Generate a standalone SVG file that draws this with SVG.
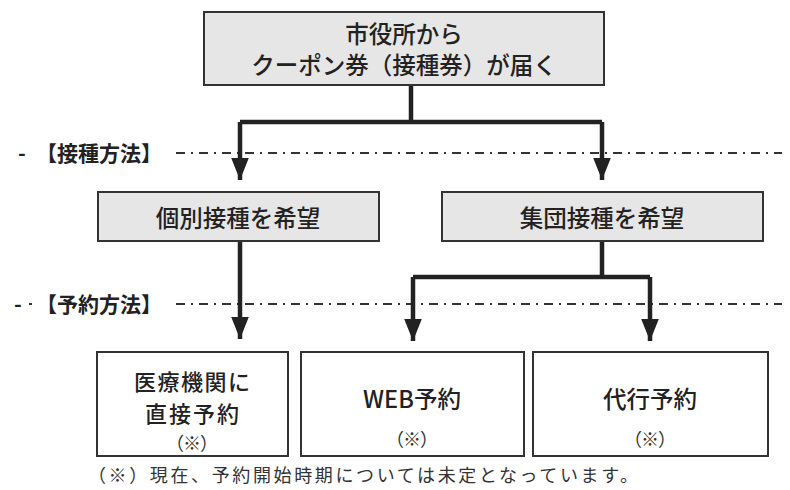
<svg xmlns="http://www.w3.org/2000/svg" width="790" height="490" viewBox="0 0 790 490">
<style>
.box{fill:#e6e6e6;stroke:#333;stroke-width:2}
.wbox{fill:#fff;stroke:#333;stroke-width:2}
.t{font-family:"Noto Sans CJK JP","Noto Sans",sans-serif;font-size:23.5px;fill:#222;text-anchor:middle;dominant-baseline:central;font-weight:500}
.t2{font-size:22px}
.s{font-family:"Noto Sans CJK JP","Noto Sans",sans-serif;font-size:18px;fill:#333;text-anchor:middle;dominant-baseline:central}
.lab{font-family:"Noto Sans CJK JP","Noto Sans",sans-serif;font-size:21px;fill:#222;dominant-baseline:central;font-weight:700}
.note{font-family:"Noto Sans CJK JP","Noto Sans",sans-serif;font-size:18px;fill:#333;dominant-baseline:central}
.dl{stroke:#333;stroke-width:2;stroke-dasharray:9 6 2 6;fill:none}
.c{stroke:#222;stroke-width:4.5;fill:none}
</style>
<defs>
<marker id="ah" markerWidth="5" markerHeight="4" refX="5" refY="2" orient="auto" markerUnits="strokeWidth">
<path d="M0,0 L5,2 L0,4 Z" fill="#222"/>
</marker>
</defs>
<g id="guides">
<line class="dl" x1="176" y1="153" x2="782" y2="153"/>
<line class="dl" x1="176" y1="304" x2="782" y2="304"/>
<text class="lab" x="18" y="152">-</text>
<text class="lab" x="36" y="152">【接種方法】</text>
<text class="lab" x="14" y="303">-</text>
<text class="lab" x="36" y="303">【予約方法】</text>
<line class="dl" x1="29" y1="304" x2="32" y2="304" stroke-dasharray="2 6"/>
</g>
<g id="connectors">
<path class="c" d="M411,85 V122 M240,122 H602" />
<path class="c" d="M240,122 V180" marker-end="url(#ah)"/>
<path class="c" d="M602,122 V180" marker-end="url(#ah)"/>
<path class="c" d="M240,241 V339" marker-end="url(#ah)"/>
<path class="c" d="M602,241 V277 M413,277 H650"/>
<path class="c" d="M413,277 V341" marker-end="url(#ah)"/>
<path class="c" d="M650,277 V341" marker-end="url(#ah)"/>
</g>
<g id="n-coupon">
<rect class="box" x="204" y="12" width="400" height="73"/>
<text class="t" x="404" y="33">市役所から</text>
<text class="t" x="404" y="64">クーポン券（接種券）が届く</text>
</g>
<g id="n-kobetsu">
<rect class="box" x="98" y="192" width="281" height="49"/>
<text class="t" x="238" y="217">個別接種を希望</text>
</g>
<g id="n-shudan">
<rect class="box" x="442" y="192" width="321" height="49"/>
<text class="t" x="602" y="217">集団接種を希望</text>
</g>
<g id="n-iryo">
<rect class="wbox" x="97" y="352" width="191" height="104"/>
<text class="t t2" x="192" y="380" textLength="116">医療機関に</text>
<text class="t t2" x="192" y="412" textLength="94">直接予約</text>
<text class="s" x="192" y="442" textLength="52" lengthAdjust="spacing">（※）</text>
</g>
<g id="n-web">
<rect class="wbox" x="301" y="352" width="223" height="104"/>
<text class="t" x="412" y="398">WEB予約</text>
<text class="s" x="412" y="438" textLength="52" lengthAdjust="spacing">（※）</text>
</g>
<g id="n-daiko">
<rect class="wbox" x="533" y="352" width="235" height="104"/>
<text class="t" x="650" y="398">代行予約</text>
<text class="s" x="650" y="438" textLength="52" lengthAdjust="spacing">（※）</text>
</g>
<text class="note" x="88" y="474" textLength="550" lengthAdjust="spacing">（※）現在、予約開始時期については未定となっています。</text>
</svg>
